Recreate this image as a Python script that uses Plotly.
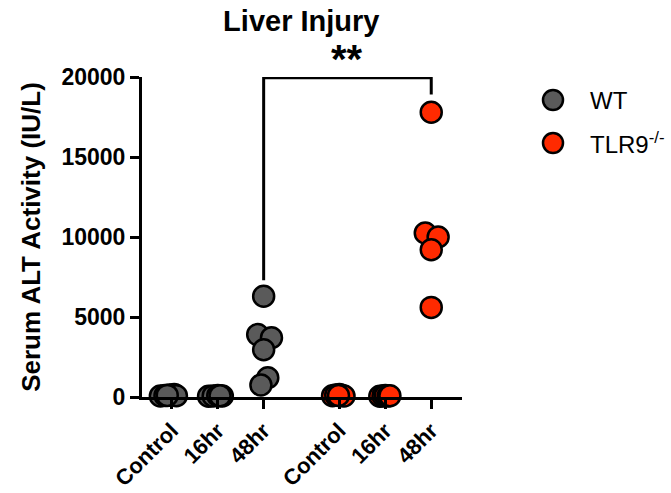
import plotly.graph_objects as go

categories = ["Control", "16hr", "48hr", "Control", "16hr", "48hr"]
cat_pos = [0, 1, 2, 3.65, 4.65, 5.65]
series_names = ["WT", "TLR9<sup>-/-</sup>"]

# values per group (IU/L) with horizontal jitter (category units)
wt_control = [60, 90, 120, 150, 80, 100]
wt_control_jit = [-0.25, -0.15, -0.05, 0.05, 0.1, -0.1]
wt_16hr = [50, 70, 90, 60, 80]
wt_16hr_jit = [-0.2, -0.1, 0.0, 0.1, 0.05]
wt_48hr = [6300, 3900, 3700, 2950, 1200, 750]
wt_48hr_jit = [0.0, -0.13, 0.17, 0.0, 0.09, -0.06]

tlr_control = [80, 120, 150, 100, 60, 90]
tlr_control_jit = [-0.15, -0.08, 0.0, 0.05, 0.1, -0.02]
tlr_16hr = [50, 70, 90, 60, 80]
tlr_16hr_jit = [-0.12, -0.05, 0.0, 0.06, 0.1]
tlr_48hr = [17800, 10250, 10000, 9200, 5600]
tlr_48hr_jit = [0.0, -0.13, 0.15, 0.0, 0.0]

WT_COLOR = "#5a5a5a"
TLR_COLOR = "#ff2a00"
FONT = "Liberation Sans, Arial"


def group(vals, jit, pos):
    return [pos + j for j in jit], vals


wx, wy = [], []
for v, j, p in [(wt_control, wt_control_jit, cat_pos[0]), (wt_16hr, wt_16hr_jit, cat_pos[1]), (wt_48hr, wt_48hr_jit, cat_pos[2])]:
    x, y = group(v, j, p)
    wx += x
    wy += y
tx, ty = [], []
for v, j, p in [(tlr_control, tlr_control_jit, cat_pos[3]), (tlr_16hr, tlr_16hr_jit, cat_pos[4]), (tlr_48hr, tlr_48hr_jit, cat_pos[5])]:
    x, y = group(v, j, p)
    tx += x
    ty += y

fig = go.Figure()
fig.add_trace(go.Scatter(x=wx, y=wy, mode="markers", name=series_names[0], cliponaxis=False, showlegend=False,
                         marker=dict(size=21, color=WT_COLOR, line=dict(color="black", width=2.5))))
fig.add_trace(go.Scatter(x=tx, y=ty, mode="markers", name=series_names[1], cliponaxis=False, showlegend=False,
                         marker=dict(size=21, color=TLR_COLOR, line=dict(color="black", width=2.5))))

# significance bracket
fig.add_shape(type="path", xref="x", yref="y",
              path=f"M {cat_pos[2]},7300 L {cat_pos[2]},19950 L {cat_pos[5]},19950 L {cat_pos[5]},18900",
              line=dict(color="black", width=3))
fig.add_annotation(x=(cat_pos[2] + cat_pos[5]) / 2, y=1.055, xref="x", yref="paper", text="<b>**</b>",
                   showarrow=False, font=dict(family=FONT, size=40, color="black"), yanchor="middle")

# legend drawn manually (larger symbols than plotly's legend allows)
PW, PH = 320, 320
def px_x(p):
    return (p - 142) / PW
def px_y(p):
    return (397 - p) / PH

for i, (name, col) in enumerate(zip(series_names, [WT_COLOR, TLR_COLOR])):
    cy = 100 + 43 * i
    fig.add_shape(type="circle", xref="paper", yref="paper",
                  x0=px_x(543), x1=px_x(563), y0=px_y(cy + 10), y1=px_y(cy - 10),
                  fillcolor=col, line=dict(color="black", width=2.5))
    fig.add_annotation(x=px_x(588), y=px_y(cy), xref="paper", yref="paper", text=name, showarrow=False,
                       xanchor="left", yanchor="middle", font=dict(family=FONT, size=24, color="black"))

fig.update_layout(
    width=671, height=493,
    margin=dict(l=142, r=209, t=77, b=96, autoexpand=False),
    plot_bgcolor="white", paper_bgcolor="white",
    showlegend=False,
    title=dict(text="<b>Liver Injury</b>", x=0.449, xanchor="center", y=0.958, yanchor="middle",
               font=dict(family=FONT, size=29, color="black")),
    font=dict(family=FONT, color="black"),
    xaxis=dict(range=[-0.65, 6.32], tickvals=cat_pos, ticktext=[f"<b>{c}</b>" for c in categories],
               tickangle=-45, showline=True, linecolor="black", linewidth=3, ticks="outside",
               ticklen=9, tickwidth=3, tickcolor="black", showgrid=False, zeroline=False, automargin=False,
               tickfont=dict(family=FONT, size=22, color="black")),
    yaxis=dict(range=[0, 20000], tickvals=[0, 5000, 10000, 15000, 20000],
               ticktext=["<b>0</b>", "<b>5000</b>", "<b>10000</b>", "<b>15000</b>", "<b>20000</b>"],
               showline=True, linecolor="black", linewidth=3, ticks="outside", ticklen=9, tickwidth=3,
               tickcolor="black", showgrid=False, zeroline=False, automargin=False,
               tickfont=dict(family=FONT, size=23, color="black"),
               title=dict(text="<b>Serum ALT Activity (IU/L)</b>", font=dict(family=FONT, size=26, color="black"),
                          standoff=14)),
)

fig.write_html("out.html")
